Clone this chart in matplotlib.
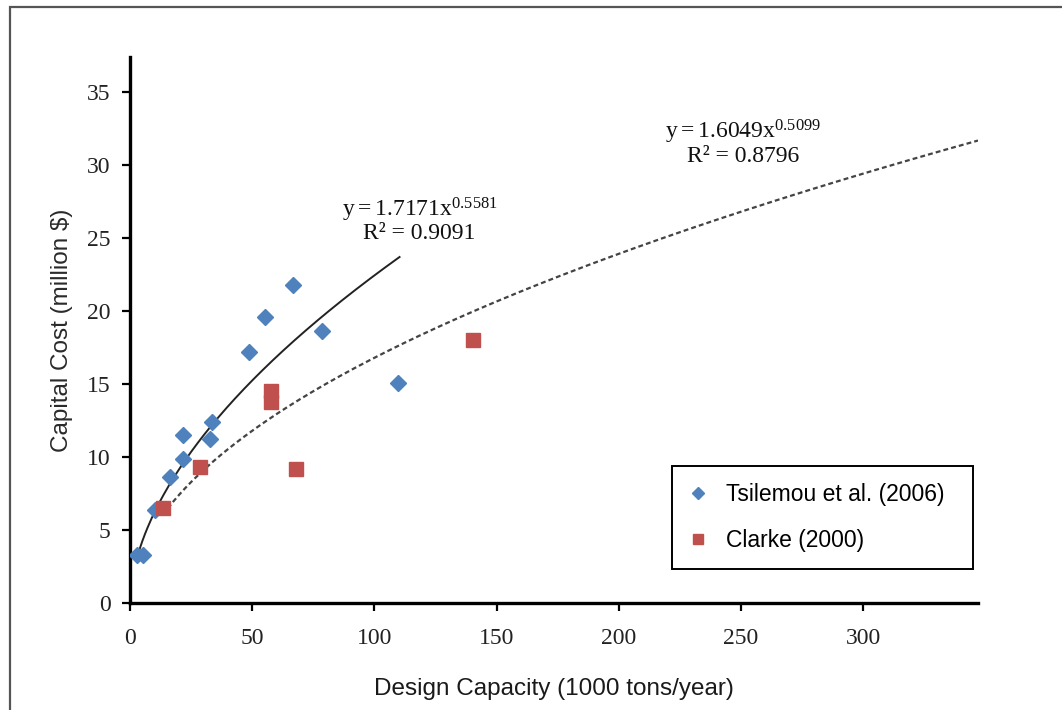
import numpy as np
import matplotlib
matplotlib.use("Agg")
import matplotlib.pyplot as plt
from matplotlib.patches import Rectangle

# Tsilemou et al. (2006)
tsil_x = [2.9, 5.3, 10.2, 16.3, 21.5, 21.5, 32.7, 33.4, 48.7, 55.2, 66.7, 78.7, 109.5]
tsil_y = [3.3, 3.3, 6.4, 8.6, 9.85, 11.5, 11.2, 12.4, 17.2, 19.6, 21.8, 18.65, 15.1]

# Clarke (2000)
clarke_x = [13.5, 28.6, 57.5, 57.5, 68.1, 140.2]
clarke_y = [6.5, 9.3, 14.5, 13.8, 9.2, 18.0]

# power-law trendlines as printed on the chart: (a, b, R^2) for y = a*x^b
tsil_fit = (1.7171, 0.5581, 0.9091)
clarke_fit = (1.6049, 0.5099, 0.8796)

xticks = [0, 50, 100, 150, 200, 250, 300]
yticks = [0, 5, 10, 15, 20, 25, 30, 35]

plt.rcParams['mathtext.fontset'] = 'custom'
plt.rcParams['mathtext.rm'] = 'Liberation Serif'
plt.rcParams['mathtext.it'] = 'Liberation Serif'

fig = plt.figure(figsize=(10.62, 7.10), dpi=100)
ax = fig.add_axes([0.1224, 0.1507, 0.9209 - 0.1224, 0.9197 - 0.1507])

# outer frame
fig.patches.append(Rectangle((10 / 1062, -0.1), 1.2, (710 - 7) / 710 + 0.1,
                             transform=fig.transFigure, fill=False,
                             edgecolor='#555555', linewidth=1.6))

# trend lines
xs = np.linspace(min(tsil_x), 110.3, 200)
ax.plot(xs, tsil_fit[0] * xs ** tsil_fit[1], color='#222222', lw=1.4, zorder=2)
xs2 = np.linspace(min(clarke_x), 347, 300)
ax.plot(xs2, clarke_fit[0] * xs2 ** clarke_fit[1], color='#444444', lw=1.6,
        linestyle=(0, (2.2, 1.4)), zorder=2)

ax.plot(tsil_x, tsil_y, 'D', color='#4F81BD', ms=8, mec='#4F81BD',
        label='Tsilemou et al. (2006)', zorder=3)
ax.plot(clarke_x, clarke_y, 's', color='#C0504D', ms=9.5, mec='#C0504D',
        label='Clarke (2000)', zorder=3)

ax.set_xlim(0, 347)
ax.set_ylim(0, 37.4)
ax.set_xticks(xticks)
ax.set_yticks(yticks)
for s in ['top', 'right']:
    ax.spines[s].set_visible(False)
for s in ['left', 'bottom']:
    ax.spines[s].set_linewidth(2.4)
ax.tick_params(direction='out', length=6, width=1.6, labelsize=17)
ax.tick_params(axis='y', pad=8)
ax.tick_params(axis='x', pad=12)
for lbl in ax.get_xticklabels() + ax.get_yticklabels():
    lbl.set_family('Liberation Serif')
    lbl.set_color('#222222')

ax.set_xlabel('Design Capacity (1000 tons/year)', fontsize=17.5,
              family='Liberation Sans', labelpad=21, color='#1a1a1a')
ax.set_ylabel('Capital Cost (million $)', fontsize=17.5,
              family='Liberation Sans', labelpad=10, color='#2a2a2a')

# equation labels
ax.text(118.5, 26.9, r'$\mathrm{y = %.4fx^{%.4f}}$' % tsil_fit[:2],
        ha='center', va='center', fontsize=17, color='#111111')
ax.text(118.5, 25.3, 'R² = %.4f' % tsil_fit[2], family='Liberation Serif',
        ha='center', va='center', fontsize=17, color='#111111')
ax.text(251, 32.3, r'$\mathrm{y = %.4fx^{%.4f}}$' % clarke_fit[:2],
        ha='center', va='center', fontsize=17, color='#111111')
ax.text(251, 30.6, 'R² = %.4f' % clarke_fit[2], family='Liberation Serif',
        ha='center', va='center', fontsize=17, color='#111111')

leg = ax.legend(loc='lower left',
                bbox_to_anchor=((672 - 130) / 848, (603 - 569) / 546,
                                (973 - 672) / 848, (569 - 470) / 546),
                mode='expand', borderaxespad=0, fancybox=False, edgecolor='black',
                framealpha=1, prop={'family': 'Liberation Sans', 'size': 16.5},
                handlelength=0.8, handletextpad=0.8, labelspacing=1.0,
                borderpad=0.75, markerscale=0.75)
leg.get_frame().set_linewidth(1.4)

fig.savefig('out.png', dpi=100)
